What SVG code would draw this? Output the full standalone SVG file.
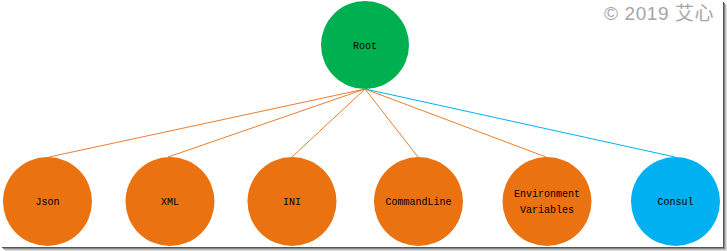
<svg xmlns="http://www.w3.org/2000/svg" width="727" height="251" viewBox="0 0 727 251">
  <style>
    .node-label { font-family: "Liberation Mono", "DejaVu Sans Mono", monospace; font-size: 10px; fill: #000; text-anchor: middle; }
    .orange { fill: #EA7210; }
    .link-orange { stroke: #ED7D31; stroke-width: 1; fill: none; }
    .link-blue { stroke: #00B0F0; stroke-width: 1; fill: none; }
  </style>
  <rect x="0" y="0" width="727" height="251" fill="#fff"/>
  <!-- frame shadow -->
  <g id="frame-shadow" fill="none">
    <line x1="723.5" y1="2" x2="723.5" y2="248" stroke="#555" stroke-width="1"/>
    <line x1="724.5" y1="3" x2="724.5" y2="249" stroke="#888" stroke-width="1"/>
    <line x1="725.5" y1="4" x2="725.5" y2="250" stroke="#bbb" stroke-width="1"/>
    <line x1="726.5" y1="5" x2="726.5" y2="251" stroke="#ddd" stroke-width="1"/>
    <line x1="2" y1="247.5" x2="724" y2="247.5" stroke="#555" stroke-width="1"/>
    <line x1="3" y1="248.5" x2="725" y2="248.5" stroke="#888" stroke-width="1"/>
    <line x1="4" y1="249.5" x2="726" y2="249.5" stroke="#bbb" stroke-width="1"/>
    <line x1="5" y1="250.5" x2="727" y2="250.5" stroke="#ddd" stroke-width="1"/>
  </g>

  <text x="604" y="20" font-family="'Liberation Sans', 'Noto Sans CJK SC', sans-serif" font-size="19" fill="#a6a6a6" letter-spacing="0.6">© 2019 艾心</text>

  <g id="connectors">
    <line class="link-orange" x1="365" y1="89" x2="49" y2="157"/>
    <line class="link-orange" x1="365" y1="89" x2="168" y2="157"/>
    <line class="link-orange" x1="365" y1="89" x2="292" y2="157"/>
    <line class="link-orange" x1="365" y1="89" x2="418" y2="157"/>
    <line class="link-orange" x1="365" y1="89" x2="546" y2="157"/>
    <line class="link-blue" x1="365" y1="89" x2="675" y2="157"/>
  </g>

  <g id="root">
    <circle cx="365" cy="45" r="44" fill="#00B050"/>
    <text class="node-label" x="365" y="48.5">Root</text>
  </g>
  <g id="json">
    <circle class="orange" cx="47.5" cy="201.5" r="44.5"/>
    <text class="node-label" x="47.5" y="205">Json</text>
  </g>
  <g id="xml">
    <circle class="orange" cx="170" cy="201.5" r="44.5"/>
    <text class="node-label" x="170" y="205">XML</text>
  </g>
  <g id="ini">
    <circle class="orange" cx="292" cy="201.5" r="44.5"/>
    <text class="node-label" x="292" y="205">INI</text>
  </g>
  <g id="commandline">
    <circle class="orange" cx="418.5" cy="201.5" r="44.5"/>
    <text class="node-label" x="418.5" y="205">CommandLine</text>
  </g>
  <g id="environment-variables">
    <circle class="orange" cx="547" cy="201.5" r="44.5"/>
    <text class="node-label" x="547" y="197">Environment</text>
    <text class="node-label" x="547" y="213">Variables</text>
  </g>
  <g id="consul">
    <circle cx="675.5" cy="201.5" r="44.5" fill="#00B0F0"/>
    <text class="node-label" x="675.5" y="205">Consul</text>
  </g>
</svg>
